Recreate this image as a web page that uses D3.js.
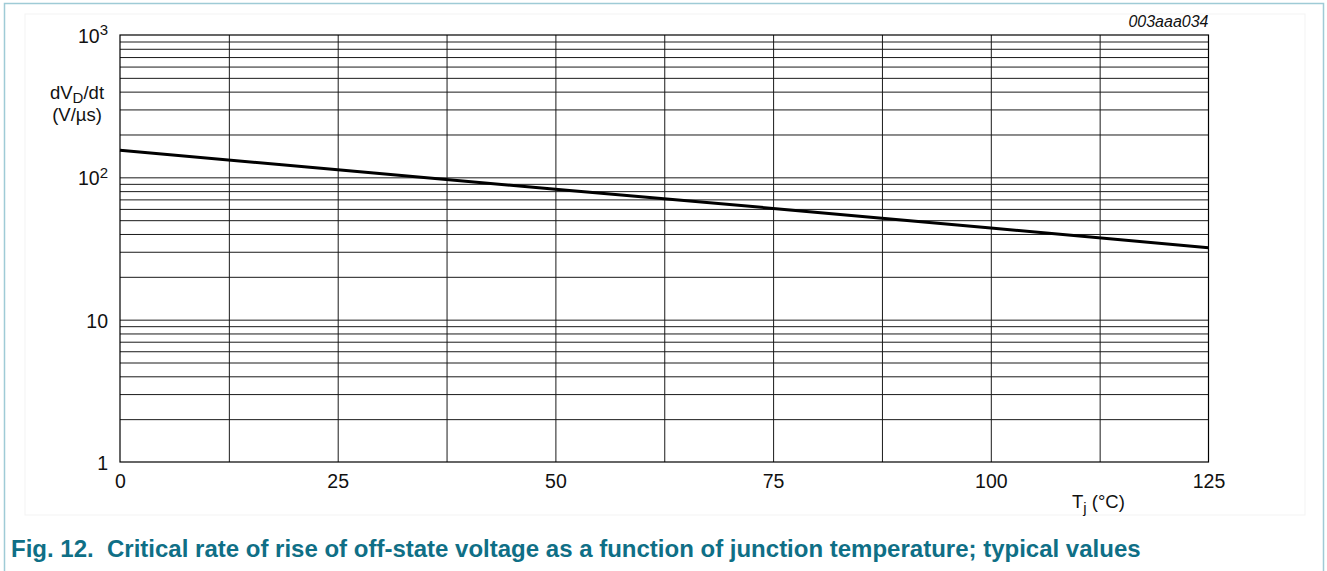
<!DOCTYPE html>
<html>
<head>
<meta charset="utf-8">
<script src="https://cdn.jsdelivr.net/npm/d3@7"></script>
<style>
  html, body { margin: 0; padding: 0; background: #fff; }
  svg { display: block; font-family: 'Liberation Sans', Arial, sans-serif; }
</style>
</head>
<body>
<div id="chart"></div>
<script>
(function() {

  'use strict'

  // junction temperature (°C) and critical dV/dt (V/µs)
  var temps = [0, 25, 50, 75, 100, 125];
  var dvdt = [155, 113, 82.5, 60.5, 44, 32];

  var xTicks = [0, 25, 50, 75, 100, 125];
  var xGrid = [12.5, 25, 37.5, 50, 62.5, 75, 87.5, 100, 112.5];
  var yTicks = [1, 10, 100, 1000];
  var yTickLabels = [['1', ''], ['10', ''], ['10', '2'], ['10', '3']];

  var W = 1327, H = 571;
  var m = { left: 120, right: 1208.5, top: 35, bottom: 462 };
  var fs = 19.5;

  var svg = d3.select('#chart').append('svg')
    .attr('width', W)
    .attr('height', H);

  // figure frame
  svg.append('path')
    .attr('d', 'M4.5,' + (H + 2) + 'V3.5H1323.5V' + (H + 2))
    .attr('fill', 'none')
    .attr('stroke', '#9fcbd6')
    .attr('stroke-width', 1.5);

  svg.append('rect')
    .attr('x', 25).attr('y', 14)
    .attr('width', 1280).attr('height', 501)
    .attr('fill', 'none')
    .attr('stroke', '#f3f3f3');

  var x = d3.scaleLinear().domain([0, 125]).range([m.left, m.right]);
  var y = d3.scaleLog().domain([1, 1000]).range([m.bottom, m.top]);

  var yGrid = [];
  [1, 10, 100].forEach(function(d) {
    for (var k = 2; k <= 9; k++) yGrid.push(d * k);
  });
  yGrid.push(10, 100);

  var plotH = m.bottom - m.top;
  var plotW = m.right - m.left;

  // vertical grid
  svg.append('g')
    .attr('class', 'grid')
    .attr('transform', 'translate(0,' + m.bottom + ')')
    .call(d3.axisBottom(x).tickValues(xGrid).tickSize(-plotH).tickFormat(''))
    .call(function(g) { g.select('.domain').remove(); });

  // horizontal grid
  svg.append('g')
    .attr('class', 'grid')
    .attr('transform', 'translate(' + m.left + ',0)')
    .call(d3.axisLeft(y).tickValues(yGrid).tickSize(-plotW).tickFormat(''))
    .call(function(g) { g.select('.domain').remove(); });

  svg.selectAll('.grid line')
    .attr('stroke', '#1a1a1a')
    .attr('stroke-width', 1);

  // plot border
  svg.append('rect')
    .attr('x', m.left).attr('y', m.top)
    .attr('width', plotW).attr('height', plotH)
    .attr('fill', 'none')
    .attr('stroke', '#000')
    .attr('stroke-width', 1.2);

  // x tick labels
  var xAxis = svg.append('g')
    .attr('transform', 'translate(0,' + m.bottom + ')')
    .call(d3.axisBottom(x).tickValues(xTicks).tickSize(0).tickPadding(12).tickFormat(d3.format('d')));
  xAxis.select('.domain').remove();
  xAxis.selectAll('text')
    .attr('font-family', "'Liberation Sans', Arial, sans-serif")
    .attr('font-size', fs)
    .attr('fill', '#111');

  // y tick labels (powers of ten)
  var yAxis = svg.append('g')
    .attr('transform', 'translate(' + m.left + ',0)')
    .call(d3.axisLeft(y).tickValues(yTicks).tickSize(0).tickPadding(12).tickFormat(''));
  yAxis.select('.domain').remove();
  yAxis.selectAll('.tick text')
    .attr('font-family', "'Liberation Sans', Arial, sans-serif")
    .attr('font-size', fs)
    .attr('fill', '#111')
    .attr('dy', '0.38em')
    .each(function(d, i) {
      var t = d3.select(this);
      var lab = yTickLabels[i];
      t.append('tspan').text(lab[0]);
      if (lab[1]) {
        t.append('tspan')
          .attr('font-size', 15)
          .attr('dy', '-0.5em')
          .text(lab[1]);
      }
    });

  // axis titles
  var yt = svg.append('text')
    .attr('x', 77).attr('y', 99)
    .attr('text-anchor', 'middle')
    .attr('font-size', 18.5)
    .attr('fill', '#111');
  yt.append('tspan').text('dV');
  yt.append('tspan').attr('font-size', 15).attr('dy', 4).text('D');
  yt.append('tspan').attr('dy', -4).text('/dt');

  svg.append('text')
    .attr('x', 77).attr('y', 121)
    .attr('text-anchor', 'middle')
    .attr('font-size', 18.5)
    .attr('fill', '#111')
    .text('(V/\u00b5s)');

  var xt = svg.append('text')
    .attr('x', 1072).attr('y', 508)
    .attr('font-size', 18.5)
    .attr('fill', '#111');
  xt.append('tspan').text('T');
  xt.append('tspan').attr('font-size', 15).attr('dy', 5).text('j');
  xt.append('tspan').attr('dy', -5).text(' (\u00b0C)');

  // figure code
  svg.append('text')
    .attr('x', m.right).attr('y', 27)
    .attr('text-anchor', 'end')
    .attr('font-size', 16)
    .attr('font-style', 'italic')
    .attr('fill', '#111')
    .text('003aaa034');

  // curve
  var line = d3.line()
    .x(function(d) { return x(d[0]); })
    .y(function(d) { return y(d[1]); });

  svg.append('path')
    .datum(d3.zip(temps, dvdt))
    .attr('d', line)
    .attr('fill', 'none')
    .attr('stroke', '#000')
    .attr('stroke-width', 3);

  // caption
  svg.append('text')
    .attr('x', 11).attr('y', 557)
    .attr('font-size', 24)
    .attr('font-weight', 'bold')
    .attr('fill', '#0f6f86')
    .attr('xml:space', 'preserve')
    .text('Fig. 12.\u00a0\u00a0Critical rate of rise of off-state voltage as a function of junction temperature; typical values');

})();
</script>
</body>
</html>
